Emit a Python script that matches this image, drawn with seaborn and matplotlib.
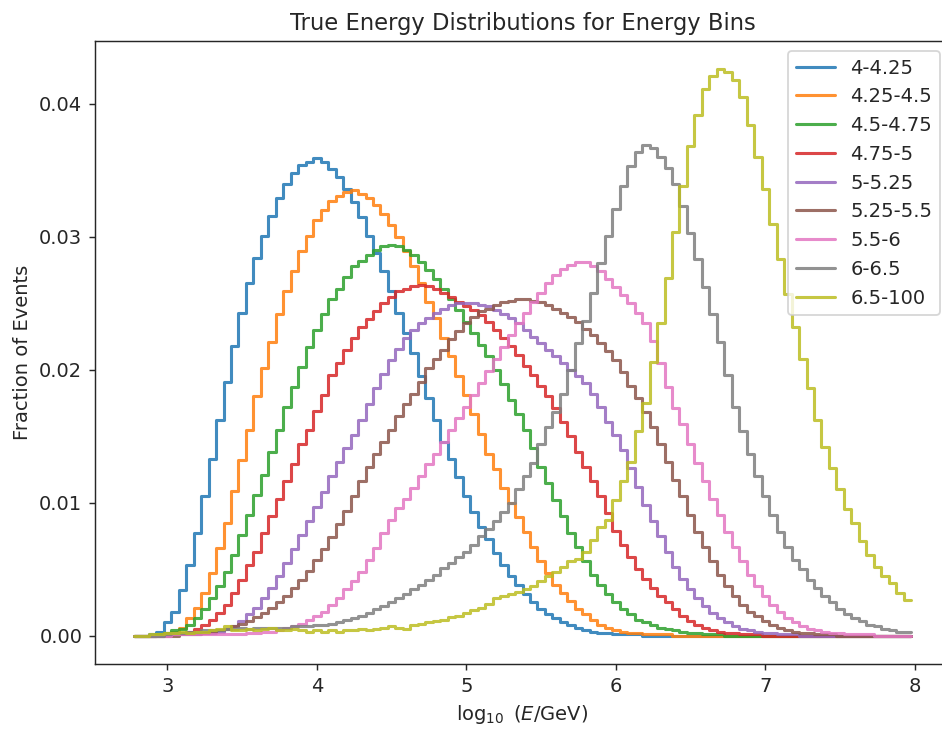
import numpy as np
import pandas as pd
import matplotlib
matplotlib.use("Agg")
import matplotlib.pyplot as plt
import seaborn as sns

# Histogram binning in log10(E/GeV)
bin_lo, bin_hi, n_bins = 2.75, 8.0, 105

labels = ["4-4.25", "4.25-4.5", "4.5-4.75", "4.75-5", "5-5.25",
          "5.25-5.5", "5.5-6", "6-6.5", "6.5-100"]

frac_4_425 = [
    0, 0, 0, 0.0001, 0.0003, 0.0010, 0.0018, 0.0034, 0.0053, 0.0077,
    0.0105, 0.0133, 0.0162, 0.0191, 0.0218, 0.0243, 0.0265, 0.0284, 0.0301, 0.0316,
    0.0329, 0.0340, 0.0348, 0.0354, 0.0356, 0.0359, 0.0356, 0.0351, 0.0345, 0.0336,
    0.0326, 0.0315, 0.0301, 0.0288, 0.0274, 0.0259, 0.0243, 0.0228, 0.0213, 0.0195,
    0.0179, 0.0162, 0.0146, 0.0133, 0.0119, 0.0105, 0.0093, 0.0082, 0.0073, 0.0062,
    0.0053, 0.0045, 0.0038, 0.0031, 0.0025, 0.0020, 0.0016, 0.0013, 0.0010, 0.0008,
    0.0006, 0.0004, 0.0003, 0.0002, 0.0002, 0.0001, 0.0001, 0.0001, 0.0001, 0,
    0, 0, 0, 0, 0, 0, 0, 0, 0, 0,
    0, 0, 0, 0, 0, 0, 0, 0, 0, 0,
    0, 0, 0, 0, 0, 0, 0, 0, 0, 0,
    0, 0, 0, 0, 0,
]

frac_425_45 = [
    0, 0, 0, 0, 0.0001, 0.0002, 0.0003, 0.0006, 0.0013, 0.0021,
    0.0032, 0.0047, 0.0066, 0.0085, 0.0109, 0.0132, 0.0155, 0.0180, 0.0201, 0.0221,
    0.0242, 0.0259, 0.0274, 0.0289, 0.0301, 0.0313, 0.0320, 0.0327, 0.0331, 0.0334,
    0.0335, 0.0332, 0.0329, 0.0324, 0.0317, 0.0309, 0.0300, 0.0289, 0.0278, 0.0265,
    0.0251, 0.0239, 0.0224, 0.0210, 0.0195, 0.0181, 0.0167, 0.0152, 0.0137, 0.0125,
    0.0111, 0.0100, 0.0089, 0.0078, 0.0067, 0.0056, 0.0047, 0.0038, 0.0032, 0.0026,
    0.0020, 0.0016, 0.0012, 0.0008, 0.0006, 0.0004, 0.0003, 0.0002, 0.0002, 0.0001,
    0.0001, 0.0001, 0.0001, 0, 0, 0, 0, 0, 0, 0,
    0, 0, 0, 0, 0, 0, 0, 0, 0, 0,
    0, 0, 0, 0, 0, 0, 0, 0, 0, 0,
    0, 0, 0, 0, 0,
]

frac_45_475 = [
    0, 0, 0, 0, 0.0001, 0.0002, 0.0004, 0.0005, 0.0008, 0.0013,
    0.0020, 0.0028, 0.0037, 0.0048, 0.0061, 0.0076, 0.0091, 0.0106, 0.0121, 0.0138,
    0.0155, 0.0172, 0.0187, 0.0202, 0.0217, 0.0230, 0.0242, 0.0253, 0.0261, 0.0270,
    0.0278, 0.0282, 0.0286, 0.0290, 0.0293, 0.0294, 0.0293, 0.0290, 0.0286, 0.0281,
    0.0275, 0.0268, 0.0261, 0.0253, 0.0245, 0.0236, 0.0228, 0.0219, 0.0210, 0.0200,
    0.0189, 0.0177, 0.0167, 0.0155, 0.0141, 0.0127, 0.0115, 0.0102, 0.0090, 0.0077,
    0.0067, 0.0056, 0.0046, 0.0038, 0.0031, 0.0025, 0.0020, 0.0016, 0.0012, 0.0010,
    0.0008, 0.0006, 0.0005, 0.0004, 0.0003, 0.0002, 0.0002, 0.0001, 0.0001, 0.0001,
    0, 0, 0, 0, 0, 0, 0, 0, 0, 0,
    0, 0, 0, 0, 0, 0, 0, 0, 0, 0,
    0, 0, 0, 0, 0,
]

frac_475_5 = [
    0, 0, 0, 0, 0, 0.0001, 0.0001, 0.0002, 0.0003, 0.0005,
    0.0008, 0.0012, 0.0017, 0.0023, 0.0032, 0.0042, 0.0053, 0.0063, 0.0077, 0.0090,
    0.0103, 0.0116, 0.0129, 0.0144, 0.0155, 0.0169, 0.0181, 0.0196, 0.0205, 0.0215,
    0.0224, 0.0232, 0.0238, 0.0244, 0.0250, 0.0255, 0.0259, 0.0261, 0.0263, 0.0264,
    0.0263, 0.0261, 0.0258, 0.0255, 0.0251, 0.0248, 0.0245, 0.0241, 0.0236, 0.0230,
    0.0224, 0.0218, 0.0211, 0.0203, 0.0196, 0.0188, 0.0180, 0.0171, 0.0161, 0.0150,
    0.0138, 0.0127, 0.0116, 0.0105, 0.0092, 0.0079, 0.0068, 0.0059, 0.0050, 0.0043,
    0.0036, 0.0030, 0.0025, 0.0020, 0.0015, 0.0011, 0.0008, 0.0006, 0.0004, 0.0003,
    0.0002, 0.0002, 0.0001, 0.0001, 0.0001, 0, 0, 0, 0, 0,
    0, 0, 0, 0, 0, 0, 0, 0, 0, 0,
    0, 0, 0, 0, 0,
]

frac_5_525 = [
    0, 0, 0, 0, 0, 0, 0.0001, 0.0001, 0.0001, 0.0001,
    0.0002, 0.0002, 0.0003, 0.0005, 0.0007, 0.0011, 0.0016, 0.0021, 0.0028, 0.0036,
    0.0045, 0.0055, 0.0065, 0.0076, 0.0086, 0.0097, 0.0108, 0.0120, 0.0131, 0.0141,
    0.0151, 0.0162, 0.0174, 0.0186, 0.0197, 0.0207, 0.0216, 0.0224, 0.0230, 0.0235,
    0.0239, 0.0243, 0.0246, 0.0249, 0.0250, 0.0250, 0.0250, 0.0249, 0.0248, 0.0245,
    0.0242, 0.0239, 0.0235, 0.0230, 0.0225, 0.0220, 0.0215, 0.0210, 0.0205, 0.0200,
    0.0195, 0.0190, 0.0182, 0.0172, 0.0161, 0.0151, 0.0140, 0.0126, 0.0112, 0.0098,
    0.0086, 0.0075, 0.0063, 0.0052, 0.0043, 0.0035, 0.0028, 0.0022, 0.0017, 0.0013,
    0.0010, 0.0007, 0.0005, 0.0004, 0.0003, 0.0002, 0.0002, 0.0001, 0.0001, 0.0001,
    0, 0, 0, 0, 0, 0, 0, 0, 0, 0,
    0, 0, 0, 0, 0,
]

frac_525_55 = [
    0, 0, 0, 0, 0, 0, 0, 0.0001, 0.0001, 0.0001,
    0.0002, 0.0003, 0.0004, 0.0005, 0.0007, 0.0009, 0.0011, 0.0014, 0.0017, 0.0021,
    0.0025, 0.0030, 0.0036, 0.0042, 0.0049, 0.0057, 0.0065, 0.0074, 0.0084, 0.0094,
    0.0105, 0.0116, 0.0127, 0.0137, 0.0146, 0.0155, 0.0165, 0.0174, 0.0182, 0.0191,
    0.0201, 0.0208, 0.0215, 0.0223, 0.0229, 0.0235, 0.0240, 0.0244, 0.0246, 0.0249,
    0.0251, 0.0252, 0.0253, 0.0253, 0.0252, 0.0251, 0.0249, 0.0246, 0.0243, 0.0240,
    0.0236, 0.0231, 0.0226, 0.0220, 0.0214, 0.0207, 0.0198, 0.0188, 0.0179, 0.0168,
    0.0157, 0.0144, 0.0131, 0.0117, 0.0105, 0.0091, 0.0078, 0.0067, 0.0056, 0.0046,
    0.0037, 0.0030, 0.0023, 0.0018, 0.0015, 0.0011, 0.0008, 0.0006, 0.0004, 0.0003,
    0.0002, 0.0002, 0.0001, 0.0001, 0.0001, 0, 0, 0, 0, 0,
    0, 0, 0, 0, 0,
]

frac_55_6 = [
    0, 0, 0, 0, 0, 0, 0.0001, 0.0001, 0.0001, 0.0001,
    0.0001, 0.0001, 0.0001, 0.0001, 0.0001, 0.0001, 0.0002, 0.0002, 0.0003, 0.0003,
    0.0004, 0.0006, 0.0007, 0.0009, 0.0012, 0.0015, 0.0018, 0.0023, 0.0028, 0.0035,
    0.0041, 0.0048, 0.0057, 0.0066, 0.0077, 0.0087, 0.0096, 0.0103, 0.0111, 0.0120,
    0.0129, 0.0137, 0.0146, 0.0155, 0.0164, 0.0172, 0.0181, 0.0190, 0.0199, 0.0208,
    0.0217, 0.0226, 0.0235, 0.0243, 0.0251, 0.0258, 0.0265, 0.0271, 0.0276, 0.0279,
    0.0281, 0.0281, 0.0278, 0.0274, 0.0268, 0.0262, 0.0256, 0.0250, 0.0243, 0.0235,
    0.0222, 0.0205, 0.0187, 0.0171, 0.0159, 0.0144, 0.0130, 0.0116, 0.0103, 0.0091,
    0.0078, 0.0067, 0.0056, 0.0046, 0.0037, 0.0030, 0.0023, 0.0018, 0.0013, 0.0010,
    0.0007, 0.0005, 0.0004, 0.0003, 0.0002, 0.0002, 0.0001, 0.0001, 0.0001, 0.0001,
    0, 0, 0, 0, 0,
]

frac_6_65 = [
    0, 0, 0, 0, 0, 0.0001, 0.0002, 0.0002, 0.0003, 0.0003,
    0.0004, 0.0004, 0.0004, 0.0005, 0.0005, 0.0006, 0.0005, 0.0006, 0.0006, 0.0006,
    0.0006, 0.0006, 0.0007, 0.0007, 0.0007, 0.0008, 0.0008, 0.0009, 0.0010, 0.0012,
    0.0013, 0.0015, 0.0017, 0.0020, 0.0022, 0.0025, 0.0028, 0.0031, 0.0035, 0.0038,
    0.0042, 0.0046, 0.0051, 0.0055, 0.0059, 0.0063, 0.0068, 0.0075, 0.0080, 0.0086,
    0.0093, 0.0100, 0.0110, 0.0120, 0.0130, 0.0144, 0.0157, 0.0168, 0.0182, 0.0200,
    0.0220, 0.0237, 0.0258, 0.0280, 0.0301, 0.0321, 0.0338, 0.0353, 0.0364, 0.0369,
    0.0367, 0.0360, 0.0352, 0.0340, 0.0323, 0.0303, 0.0283, 0.0262, 0.0242, 0.0221,
    0.0196, 0.0172, 0.0154, 0.0137, 0.0120, 0.0105, 0.0091, 0.0078, 0.0067, 0.0057,
    0.0050, 0.0042, 0.0036, 0.0030, 0.0025, 0.0020, 0.0016, 0.0013, 0.0011, 0.0008,
    0.0007, 0.0005, 0.0004, 0.0003, 0.0003,
]

frac_65_100 = [
    0, 0, 0, 0.0001, 0.0001, 0.0002, 0.0002, 0.0003, 0.0002, 0.0003,
    0.0003, 0.0004, 0.0005, 0.0007, 0.0004, 0.0004, 0.0005, 0.0004, 0.0005, 0.0006,
    0.0004, 0.0004, 0.0005, 0.0004, 0.0003, 0.0004, 0.0003, 0.0004, 0.0003, 0.0004,
    0.0004, 0.0005, 0.0004, 0.0005, 0.0006, 0.0007, 0.0006, 0.0005, 0.0008, 0.0009,
    0.0010, 0.0011, 0.0012, 0.0014, 0.0015, 0.0017, 0.0019, 0.0021, 0.0024, 0.0028,
    0.0030, 0.0031, 0.0033, 0.0035, 0.0037, 0.0041, 0.0045, 0.0048, 0.0052, 0.0056,
    0.0058, 0.0063, 0.0072, 0.0082, 0.0087, 0.0102, 0.0116, 0.0131, 0.0154, 0.0175,
    0.0206, 0.0235, 0.0269, 0.0304, 0.0338, 0.0368, 0.0392, 0.0411, 0.0421, 0.0426,
    0.0424, 0.0418, 0.0405, 0.0384, 0.0360, 0.0336, 0.0310, 0.0283, 0.0257, 0.0232,
    0.0208, 0.0186, 0.0162, 0.0142, 0.0126, 0.0110, 0.0095, 0.0085, 0.0071, 0.0061,
    0.0052, 0.0045, 0.0040, 0.0032, 0.0027,
]

series = [frac_4_425, frac_425_45, frac_45_475, frac_475_5, frac_5_525,
          frac_525_55, frac_55_6, frac_6_65, frac_65_100]

# bin centres of the histogram
edges = np.linspace(bin_lo, bin_hi, n_bins + 1)
centers = 0.5 * (edges[:-1] + edges[1:])

df = pd.concat(
    [pd.DataFrame({"log10E": centers, "frac": vals, "bin": lab})
     for lab, vals in zip(labels, series)],
    ignore_index=True,
)

sns.set_style("ticks")
plt.rcParams["font.family"] = ["DejaVu Sans"]
plt.rcParams.update({
    "font.size": 10.8,
    "axes.titlesize": 12.5,
    "axes.labelsize": 10.8,
    "xtick.labelsize": 10.8,
    "ytick.labelsize": 10.8,
    "legend.fontsize": 10.8,
})

DPI = 130
fig = plt.figure(figsize=(942 / DPI, 731 / DPI), dpi=DPI)
ax = fig.add_axes([95 / 942, 1 - 664 / 731, 855 / 942, 623 / 731])

sns.lineplot(data=df, x="log10E", y="frac", hue="bin", hue_order=labels,
             palette="tab10", drawstyle="steps-pre", errorbar=None,
             linewidth=1.7, alpha=0.85, ax=ax)

handles, lab = ax.get_legend_handles_labels()
ax.legend(handles, lab, loc="upper right")

ax.set_title("True Energy Distributions for Energy Bins")
ax.set_xlabel(r"$\log_{10}$ ($E$/GeV)")
ax.set_ylabel("Fraction of Events")

fig.savefig("out.png", dpi=DPI)
